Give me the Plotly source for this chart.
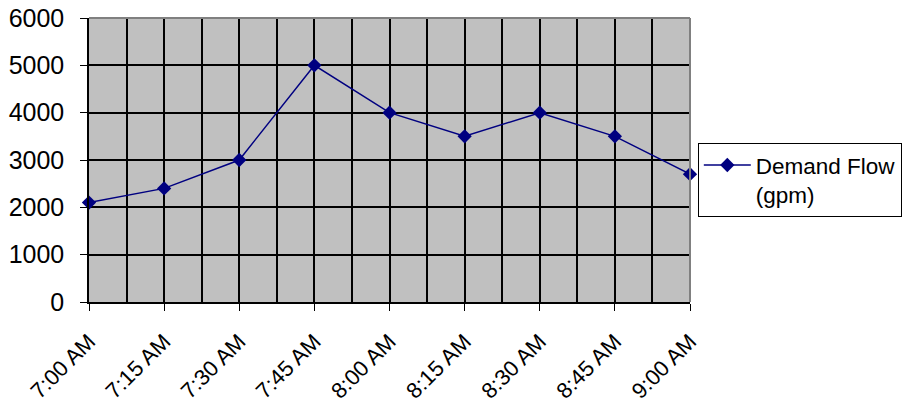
import plotly.graph_objects as go

times = ["7:00 AM", "7:15 AM", "7:30 AM", "7:45 AM", "8:00 AM", "8:15 AM", "8:30 AM", "8:45 AM", "9:00 AM"]
demand_flow = [2100, 2400, 3000, 5000, 4000, 3500, 4000, 3500, 2700]
y_ticks = [0, 1000, 2000, 3000, 4000, 5000, 6000]

xpos = list(range(len(times)))
font = "Liberation Sans, Arial, sans-serif"

fig = go.Figure()
fig.add_trace(go.Scatter(
    x=xpos, y=demand_flow, mode="lines+markers",
    name="Demand Flow<br>(gpm)",
    line=dict(color="#000080", width=1.5),
    marker=dict(symbol="diamond", size=11, color="#000080"),
    cliponaxis=False,
))

fig.update_layout(
    width=903, height=401,
    margin=dict(l=81, r=221, t=10, b=107, autoexpand=False),
    paper_bgcolor="white", plot_bgcolor="#C0C0C0",
    font=dict(family=font, size=22, color="black"),
    showlegend=True,
    legend=dict(x=1.013, xanchor="left", y=0.43, yanchor="middle",
                bordercolor="black", borderwidth=1, bgcolor="white",
                font=dict(size=22.5), valign="top", itemwidth=47),
    shapes=[
        dict(type="line", xref="x domain", yref="y domain", x0=0, x1=1, y0=1, y1=1,
             line=dict(color="#808080", width=2)),
        dict(type="line", xref="x domain", yref="y domain", x0=1, x1=1, y0=0, y1=1,
             line=dict(color="#808080", width=2)),
    ],
)
fig.update_xaxes(
    range=[0, len(times) - 1], tickmode="array", tickvals=xpos, ticktext=times,
    tickangle=-45, ticks="outside", ticklen=7, tickcolor="black",
    showline=True, linecolor="black", linewidth=1.5,
    showgrid=True, gridcolor="black", gridwidth=1.5,
    minor=dict(dtick=0.5, tick0=0, showgrid=True, gridcolor="black", gridwidth=1.5),
    tickfont=dict(size=22), zeroline=False, ticklabelstandoff=9, automargin=False,
    ticklabeloverflow="allow",
)
fig.update_yaxes(
    range=[0, 6000], tickmode="array", tickvals=y_ticks,
    ticks="outside", ticklen=7, tickcolor="black",
    showline=True, linecolor="black", linewidth=1.5,
    showgrid=True, gridcolor="black", gridwidth=1.5,
    tickfont=dict(size=25), zeroline=False, ticklabelstandoff=11, automargin=False,
    ticklabeloverflow="allow",
)

fig.write_html("out.html")
